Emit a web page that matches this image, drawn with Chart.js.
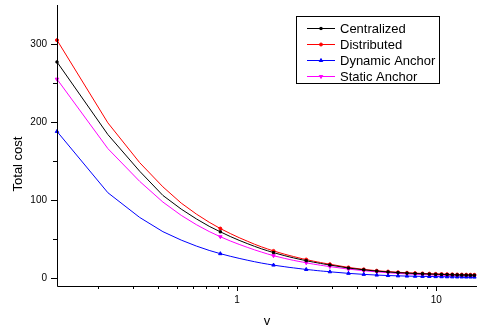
<!DOCTYPE html>
<html><head><meta charset="utf-8">
<script src="https://cdn.jsdelivr.net/npm/chart.js@4.4.1/dist/chart.umd.min.js"></script>
<style>html,body{margin:0;padding:0;background:#fff;}#wrap{width:482px;height:330px;}</style>
</head><body><div id="wrap"><canvas id="c" width="482" height="330"></canvas></div>
<script>
const vValues = [0.125,0.225,0.325,0.425,0.525,0.625,0.725,0.825,0.925,1.025,1.125,1.225,1.325,1.425,1.525,1.625,1.725,1.825,1.925,2.025,2.125,2.225,2.325,2.425,2.525,2.625,2.725,2.825,2.925,
  3.625,4.325,5.025,5.725,6.425,7.125,7.825,8.525,9.225,9.925,10.625,11.325,12.025,12.725,13.425,14.125,14.825,15.525,15.825];
const centralized = [277,184,137,106,88.5,76,66.5,59.4,53.4,48.5,44.4,40.8,37.7,35.1,32.8,30.8,29.0,27.4,26.0,24.7,23.5,22.4,21.4,20.5,19.7,18.9,18.2,17.5,16.9,
  13.0,10.7,9.1,8.0,7.1,6.5,6.0,5.6,5.3,5.0,4.8,4.6,4.4,4.2,4.1,4.0,3.9,3.8,3.8];
const distributed = [305,199,148,117,96.2,82.2,71.7,63.6,57.2,51.9,47.5,43.5,40.2,37.4,35.0,32.8,30.9,29.2,27.7,26.3,25.0,23.9,22.8,21.8,20.9,20.1,19.3,18.6,17.9,
  13.8,11.3,9.6,8.5,7.6,7.0,6.5,6.1,5.8,5.5,5.3,5.1,4.9,4.7,4.6,4.5,4.4,4.3,4.3];
const dynamicAnchor = [188,109.5,77.8,59.6,48.8,41.2,35.6,31.4,28.1,25.4,23.1,21.1,19.4,18.0,16.8,15.7,14.8,13.9,13.2,12.5,11.8,11.2,10.7,10.2,9.7,9.3,8.9,8.6,8.2,
  6.2,4.9,4.0,3.4,3.0,2.7,2.5,2.3,2.2,2.0,1.9,1.8,1.7,1.6,1.6,1.5,1.5,1.4,1.4];
const staticAnchor = [255,166,124,97.5,80.5,68.6,59.8,53.1,47.7,43.3,39.6,36.3,33.5,31.0,28.8,27.1,25.5,24.1,22.8,21.7,20.7,19.7,18.8,18.0,17.3,16.6,16.0,15.4,14.9,
  11.6,9.6,8.1,7.0,6.1,5.5,5.0,4.6,4.3,4.0,3.8,3.6,3.4,3.3,3.2,3.1,3.0,2.9,2.9];
const seriesNames = ['Centralized','Distributed','Dynamic Anchor','Static Anchor'];
const yTickValues = [0,100,200,300];
const yMinorTicks = [50,150,250];
const xTickValues = [1,10];
const xMinorTicks = [0.2,0.3,0.4,0.5,0.6,0.7,0.8,0.9,2,3,4,5,6,7,8,9];
const xTitle = 'v';
const yTitle = 'Total cost';

const FONT = "'Liberation Sans', Arial, sans-serif";
const colors = ['#000000','#ff0000','#0000ff','#ff00ff'];
const styles = [{s:'rect',r:0,rad:1.5},{s:'circle',r:0,rad:1.5},{s:'triangle',r:0,rad:2},{s:'triangle',r:180,rad:2}];
const allSeries = [centralized, distributed, dynamicAnchor, staticAnchor];

function hasMarker(i){ return Math.round((vValues[i]-0.125)*10) % 7 === 0; }

const datasets = allSeries.map((arr,k)=>({
  label: seriesNames[k],
  data: arr.map((y,i)=>({x:vValues[i], y:y})),
  borderColor: colors[k],
  backgroundColor: colors[k],
  borderWidth: 1,
  tension: 0,
  pointStyle: styles[k].s,
  rotation: styles[k].r,
  pointRadius: ctx => hasMarker(ctx.dataIndex) ? styles[k].rad : 0,
  pointBorderWidth: 1,
  clip: false
}));

const decor = {
  id:'decor',
  afterDraw(chart){
    const ctx = chart.ctx, a = chart.chartArea;
    const xs = chart.scales.x, ys = chart.scales.y;
    ctx.save();
    ctx.strokeStyle = '#000'; ctx.lineWidth = 1;
    ctx.beginPath();
    ctx.moveTo(a.left+0.5, a.top); ctx.lineTo(a.left+0.5, a.bottom+0.5);
    ctx.lineTo(a.right, a.bottom+0.5);
    yTickValues.forEach(v=>{const p=Math.round(ys.getPixelForValue(v))+0.5; ctx.moveTo(a.left-6,p); ctx.lineTo(a.left,p);});
    yMinorTicks.forEach(v=>{const p=Math.round(ys.getPixelForValue(v))+0.5; ctx.moveTo(a.left-4,p); ctx.lineTo(a.left,p);});
    xTickValues.forEach(v=>{const p=Math.round(xs.getPixelForValue(v))+0.5; ctx.moveTo(p,a.bottom); ctx.lineTo(p,a.bottom+5);});
    xMinorTicks.forEach(v=>{const p=Math.round(xs.getPixelForValue(v))+0.5; ctx.moveTo(p,a.bottom); ctx.lineTo(p,a.bottom+3);});
    ctx.stroke();
    ctx.fillStyle = '#000';
    ctx.font = '13px ' + FONT;
    ctx.textAlign = 'center'; ctx.textBaseline = 'middle';
    ctx.fillText(xTitle, (a.left+a.right)/2, 321);
    ctx.save(); ctx.translate(18, 164); ctx.rotate(-Math.PI/2); ctx.fillText(yTitle, 0, 0); ctx.restore();
    ctx.strokeStyle = '#000';
    ctx.strokeRect(296.5, 16.5, 143, 67);
    ctx.textAlign = 'left';
    seriesNames.forEach((n,k)=>{
      const y = 28.5 + 16*k;
      ctx.strokeStyle = colors[k]; ctx.fillStyle = colors[k]; ctx.lineWidth = 1;
      ctx.beginPath(); ctx.moveTo(307,y); ctx.lineTo(335,y); ctx.stroke();
      Chart.helpers.drawPoint(ctx, {pointStyle: styles[k].s, rotation: styles[k].r, radius: styles[k].rad, borderWidth:1}, 321, y);
      ctx.fillStyle = '#000';
      ctx.fillText(n, 340, y+0.5);
    });
    ctx.restore();
  }
};

function zeroPad(s){ s.paddingTop = 0; s.paddingBottom = 0; s.paddingLeft = 0; s.paddingRight = 0; }

new Chart(document.getElementById('c'), {
  type: 'line',
  data: { datasets },
  options: {
    responsive: false, animation: false, devicePixelRatio: 1,
    layout: { padding: { top: 5, right: 5, left: 0, bottom: 0 } },
    plugins: { legend: { display: false }, tooltip: { enabled: false } },
    scales: {
      x: {
        type: 'logarithmic', min: 0.125, max: 16,
        grid: { display: false, drawTicks: false }, border: { display: false },
        afterBuildTicks: s => { s.ticks = xTickValues.map(v=>({value:v, major:true})); },
        afterFit: s => { s.height = 44; zeroPad(s); },
        ticks: { autoSkip: false, maxRotation: 0, padding: 8, color: '#000', font: { size: 10, family: FONT }, callback: v => String(v) }
      },
      y: {
        type: 'linear', min: -10, max: 350,
        grid: { display: false, drawTicks: false }, border: { display: false },
        afterBuildTicks: s => { s.ticks = yTickValues.map(v=>({value:v})); },
        afterFit: s => { s.width = 57; zeroPad(s); },
        ticks: { padding: 10, color: '#000', font: { size: 10, family: FONT }, callback: v => String(v) }
      }
    }
  },
  plugins: [decor]
});
</script></body></html>
